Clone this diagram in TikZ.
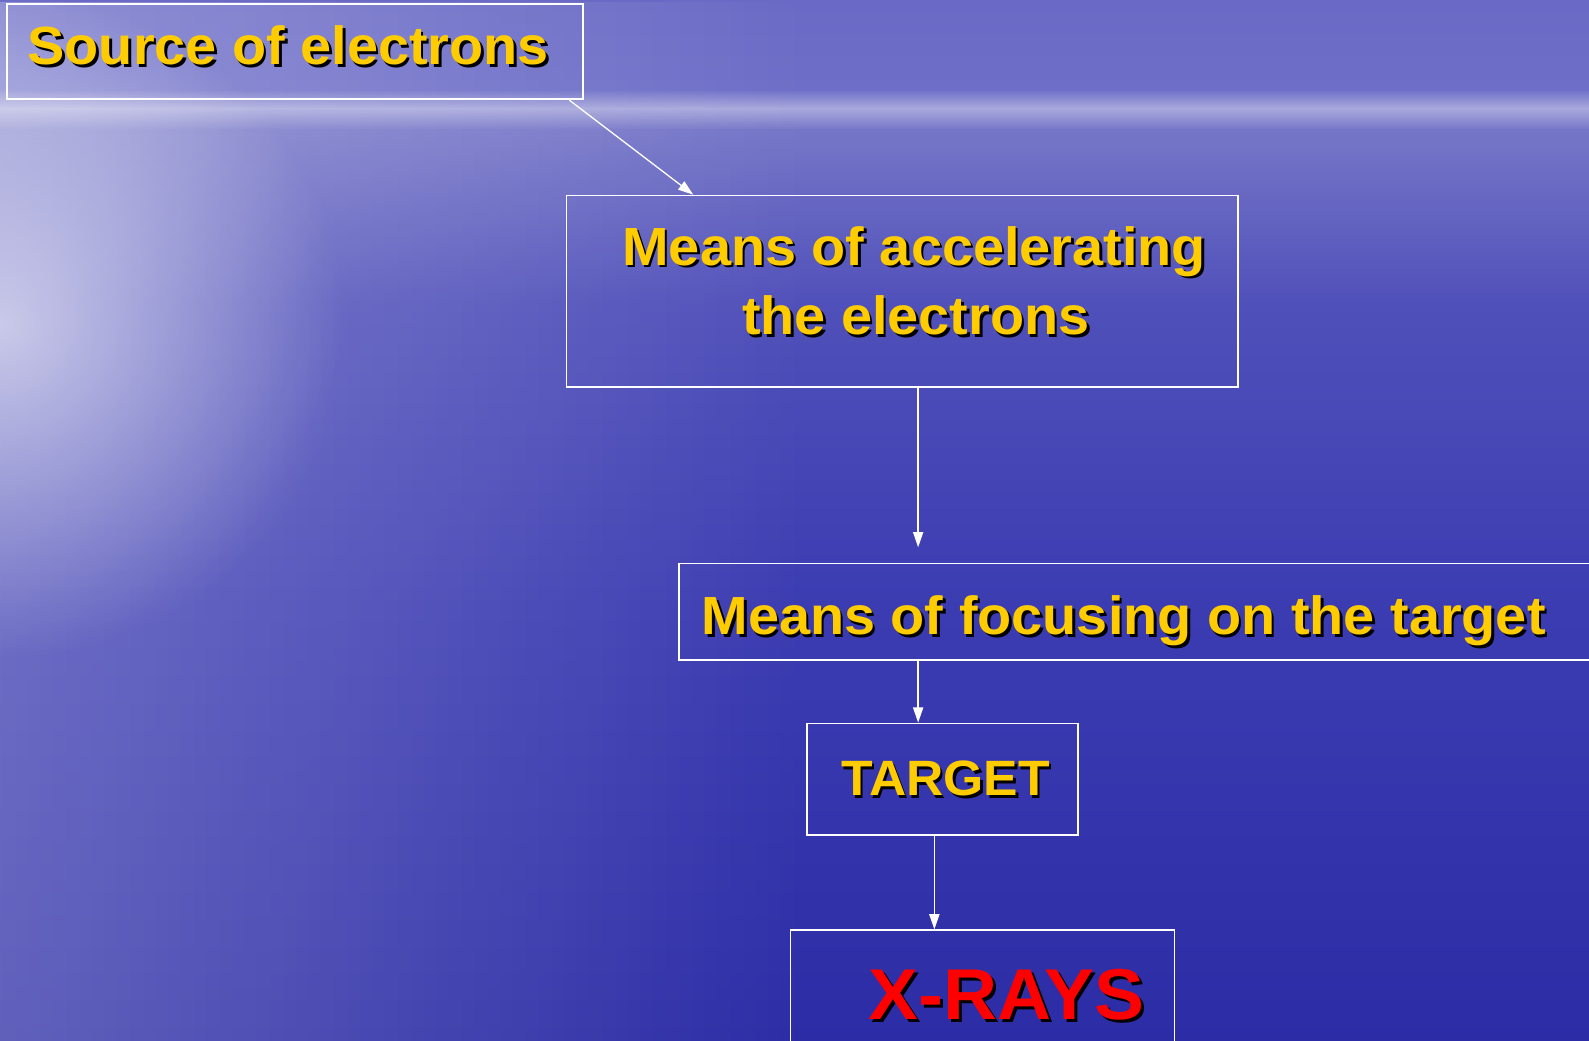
\documentclass[tikz,border=0pt]{standalone}
\usepackage{fontspec}
\setmainfont{Liberation Sans}[FakeStretch=1.04]
\usetikzlibrary{arrows.meta,fadings,calc}
\definecolor{ylw}{HTML}{FFCC00}
\definecolor{xred}{HTML}{FF0000}
\definecolor{c0}{HTML}{6A6AC6}
\definecolor{c1}{HTML}{6E6EC8}
\definecolor{c2}{HTML}{A8A8DC}
\definecolor{c3}{HTML}{7676C8}
\definecolor{c4}{HTML}{5050BA}
\definecolor{c5}{HTML}{3C3CB2}
\definecolor{c6}{HTML}{2C2CA6}
\newcommand\shd[1]{\leavevmode\rlap{\kern2.5pt\raisebox{-2.5pt}{\color{black}#1}}#1}
\tikzfading[name=fadeR, left color=transparent!75, right color=transparent!100]
\tikzfading[name=glow, inner color=transparent!40, outer color=transparent!100]
\tikzset{
  boxn/.style={draw=white, line width=1.8pt, rectangle, inner sep=0pt},
  lbl/.style={anchor=base west, inner sep=0pt, text=ylw, font=\bfseries\fontsize{53}{60}\selectfont},
  arr/.style={draw=white, line width=1.3pt, -{Triangle[length=15pt,width=10pt]}}
}
\begin{document}
\begin{tikzpicture}[x=1pt,y=-1pt]
\useasboundingbox (0,0) rectangle (1568,1027);
% background
\fill[top color=c0, bottom color=c1] (0,0) rectangle (1568,88);
\fill[top color=c1, bottom color=c2] (0,88) rectangle (1568,107);
\fill[top color=c2, bottom color=c3] (0,107) rectangle (1568,128);
\fill[top color=c3, bottom color=c4] (0,128) rectangle (1568,300);
\fill[top color=c4, bottom color=c5] (0,300) rectangle (1568,600);
\fill[top color=c5, bottom color=c6] (0,600) rectangle (1568,1027);
\fill[white, path fading=fadeR] (0,0) rectangle (800,1027);
\fill[white, path fading=glow] (0,320) ellipse (340 and 330);
% boxes
\node[boxn, minimum width=568pt, minimum height=94pt] (b1) at (291,51) {};
\node[boxn, minimum width=663pt, minimum height=189pt] (b2) at (890.5,287.5) {};
\node[boxn, minimum width=930pt, minimum height=95pt] (b3) at (1135,603.5) {};
\node[boxn, minimum width=268pt, minimum height=110pt] (b4) at (930,769) {};
\node[boxn, minimum width=379pt, minimum height=140pt] (b5) at (969.5,988) {};
% texts
\node[lbl] (t1) at (27,64) {\shd{Source of electrons}};
\node[lbl] (t2a) at (614,261.5) {\shd{Means of accelerating}};
\node[lbl] (t2b) at (732,330.5) {\shd{the electrons}};
\node[lbl] (t3) at (692,626.5) {\shd{Means of focusing on the target}};
\node[lbl, font=\bfseries\fontsize{49}{56}\selectfont] (t4) at (830,785) {\shd{TARGET}};
\node[lbl, text=xred, font=\bfseries\fontsize{71}{80}\selectfont] (t5) at (857,1006.5) {\shd{X-RAYS}};
% connectors
\coordinate (gap) at (906,540);
\draw[arr] ($(b1.south east)+(-14,0)$) -- ($(b2.north west)+(126,0)$);
\draw[arr] (b2.south -| gap) -- (gap);
\draw[arr] (b3.south -| gap) -- (b4.north -| gap);
\draw[arr] ($(b4.south)+(-8,0)$) -- ($(b4.south |- b5.north)+(-8,0)$);
\end{tikzpicture}
\end{document}
